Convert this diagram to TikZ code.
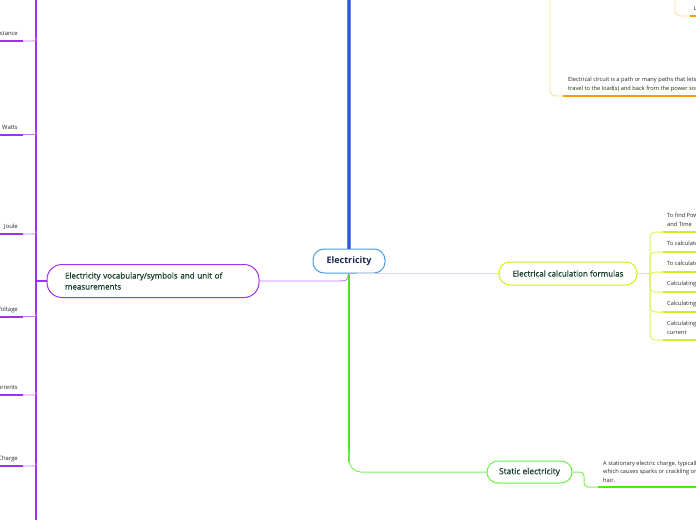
\documentclass[tikz,border=0pt]{standalone}
\usepackage{fontspec}
\setmainfont{Open Sans}
\newfontfamily\medfont[FakeBold=0.7]{Open Sans}
\definecolor{cblue}{HTML}{2A55E0}
\definecolor{cblueb}{HTML}{4A9BE0}
\definecolor{cnavy}{HTML}{1A2550}
\definecolor{cdkgreen}{HTML}{17402A}
\definecolor{cgreen}{HTML}{44EE11}
\definecolor{cgreenl}{HTML}{80F060}
\definecolor{cyel}{HTML}{CCEE22}
\definecolor{cyell}{HTML}{DDF455}
\definecolor{cpur}{HTML}{A030F0}
\definecolor{cpurl}{HTML}{C878FF}
\definecolor{corg}{HTML}{FF9A10}
\definecolor{corgl}{HTML}{FFD79A}
\definecolor{ctext}{HTML}{262626}
\tikzset{
  topic/.style={draw, line width=1pt, rounded corners=11pt, fill=white, inner sep=0pt, font=\medfont\fontsize{8}{11}\selectfont, text=cdkgreen},
  small/.style={font=\fontsize{5.7}{8.4}\selectfont, text=ctext, inner sep=0pt, align=left},
  smallr/.style={font=\fontsize{5.9}{8.4}\selectfont, text=ctext, inner sep=0pt, align=right},
  pthin/.style={cpurl, line width=0.9pt},
  pthick/.style={cpur, line width=2pt},
  ythin/.style={cyell, line width=1pt},
  ythick/.style={cyel, line width=2pt},
  gthin/.style={cgreenl, line width=1pt},
  gthick/.style={cgreen, line width=2pt},
  othin/.style={corgl, line width=0.8pt},
  othick/.style={corg, line width=2pt},
}
\begin{document}
\begin{tikzpicture}[x=1pt,y=-1pt]
\useasboundingbox (0,0) rectangle (696,520);
\clip (0,0) rectangle (696,520);
% nodes
\node[topic, draw=cblueb, text=cnavy, minimum width=72pt, minimum height=24pt, font=\bfseries\fontsize{9}{11}\selectfont] (ctr) at (349,261) {Electricity};
\node[topic, draw=cyel, minimum width=138pt, minimum height=23pt] (form) at (568,273.5) {Electrical calculation formulas};
\node[topic, draw=cgreen!80!white, minimum width=85pt, minimum height=22pt, font=\medfont\fontsize{8.4}{11}\selectfont] (stat) at (529.5,472) {Static electricity};
\node[topic, draw=cpur, rounded corners=15pt, minimum width=212pt, minimum height=33pt, align=left, text width=176pt, inner xsep=18pt] (voc) at (153,281) {Electricity vocabulary/symbols and unit of\\measurements};
% coordinates
\coordinate (btop) at (349,0);
\coordinate (ganch) at (349,462);
\coordinate (fanch) at (650,273.5);
\coordinate (vtop) at (36,0);
\coordinate (vbot) at (36,520);
% central branches
\draw[cblue!70!white, line width=3.4pt] (ctr.north) -- (btop);
\draw[cblue, line width=2.2pt] (ctr.north) -- (btop);
\draw[gthick, line width=2.6pt] (ctr.south) -- (ganch);
\draw[gthin, rounded corners=12pt] (349,450) |- (stat.west);
\draw[ythin] (357,273.5) -- (form.west);
\draw[pthin] (348,273) .. controls (348,281) .. (334,281) -- (voc.east);
% left purple bracket
\draw[pthick] (vtop) -- (vbot);
\draw[pthick, line width=1.4pt] (voc.west) -- (36,281);
\foreach \yy/\tt in {41/Resistance, 134.5/Watts, 234/Joule, 316.5/Voltage, 395/Currents, 466/Charge}{
  \draw[pthick] (-2,\yy) -- (23,\yy);
  \draw[pthin] (23,\yy) -- (33,\yy) .. controls (36,\yy) .. (36,\yy-3);
  \node[smallr, anchor=base east] at (18,\yy-5.5) {\tt};
}
% formulas children
\draw[ythin, line width=1.2pt] (form.east) -- (fanch);
\foreach \yy in {232,252,272,292,312,340}{
  \draw[ythin, rounded corners=5pt] (fanch) |- (663,\yy);
  \draw[ythick] (663,\yy) -- (700,\yy);
}
\node[small, anchor=base west] (f1) at (667,226) {To find Power, Energy\\and Time};
\node[small, anchor=base west] (f2) at (667,245.5) {To calculate Power};
\node[small, anchor=base west] (f3) at (667,265.5) {To calculate Energy};
\node[small, anchor=base west] (f4) at (667,285.5) {Calculating Resistance};
\node[small, anchor=base west] (f5) at (667,305.5) {Calculating Voltage};
\node[small, anchor=base west] (f6) at (667,334) {Calculating Charge, Time and\\current};
% static child
\draw[gthin, rounded corners=4pt] (stat.east) -- (584,472) |- (600,487);
\draw[gthick] (598,487) -- (700,487);
\node[small, anchor=base west] (s1) at (603,482) {A stationary electric charge, typically produced by friction,\\which causes sparks or crackling or the attraction of dust or\\hair.};
% orange (top right)
\draw[othin, rounded corners=6pt] (550,-2) |- (564,96);
\draw[othick] (563,96) -- (700,96);
\node[small, anchor=base west] (o1) at (568,90) {Electrical circuit is a path or many paths that lets electricity\\travel to the load(s) and back from the power source.};
\draw[othin, rounded corners=5pt] (675,-2) |- (690,16);
\draw[othick] (690,16) -- (700,16);
\node[small, anchor=base west] (o2) at (693.5,10.5) {Load};
\end{tikzpicture}
\end{document}
